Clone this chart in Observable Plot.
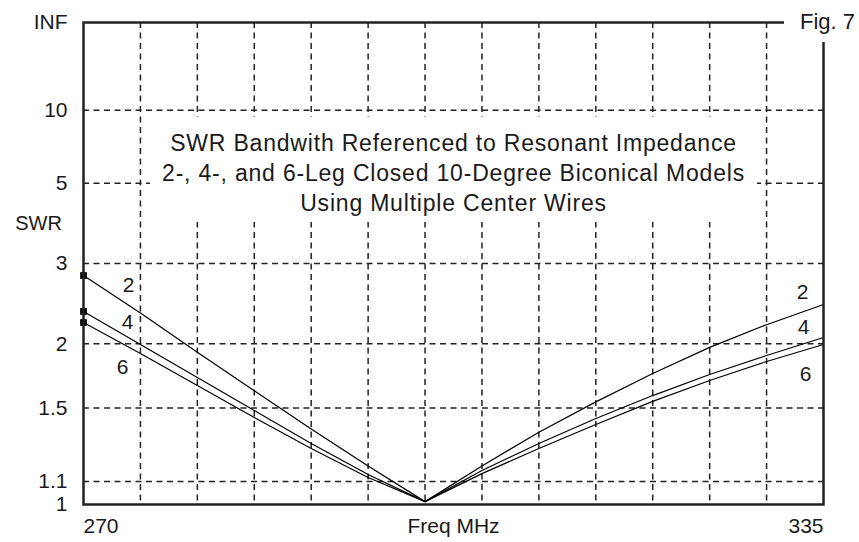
<!DOCTYPE html>
<html><head><meta charset="utf-8">
<script src="https://cdn.jsdelivr.net/npm/d3@7"></script>
<script src="https://cdn.jsdelivr.net/npm/@observablehq/plot@0.6"></script>
<style>
body{margin:0;background:#fff;font-family:"Liberation Sans",Arial,sans-serif;color:#1a1a1a;}
#wrap{position:relative;width:859px;height:542px;overflow:hidden;}
#title{position:absolute;left:150px;top:117px;width:607px;height:105px;background:#fff;text-align:center;font-size:23px;letter-spacing:0.8px;line-height:30px;padding-top:11px;box-sizing:border-box;white-space:nowrap;}
#fig{position:absolute;left:784px;top:0;width:75px;height:42px;background:#fff;font-size:22px;line-height:44px;padding-left:16px;box-sizing:border-box;white-space:nowrap;}
</style>
</head><body>
<div id="wrap"><div id="chart"></div>
<div id="title">SWR Bandwith Referenced to Resonant Impedance<br>2-, 4-, and 6-Leg Closed 10-Degree Biconical Models<br>Using Multiple Center Wires</div>
<div id="fig">Fig. 7</div>
</div>
<script>
// Frequencies (MHz)
const freqs = [270, 275, 280, 285, 290, 295, 300, 305, 310, 315, 320, 325, 330, 335];
// SWR values per model
const swr2 = [2.810, 2.317, 1.924, 1.618, 1.372, 1.174, 1.012, 1.174, 1.353, 1.541, 1.747, 1.967, 2.190, 2.419];
const swr4 = [2.336, 1.994, 1.716, 1.484, 1.290, 1.133, 1.012, 1.152, 1.290, 1.434, 1.584, 1.739, 1.895, 2.060];
const swr6 = [2.213, 1.912, 1.656, 1.440, 1.263, 1.119, 1.012, 1.137, 1.263, 1.398, 1.544, 1.693, 1.844, 1.994];
const seriesNames = ["2", "4", "6"];
const seriesValues = [swr2, swr4, swr6];
// Axis ticks
const yTickValues = [1, 1.1, 1.5, 2, 3, 5, 10, Infinity];
const yTickLabels = ["1", "1.1", "1.5", "2", "3", "5", "10", "INF"];
const xGridValues = [275, 280, 285, 290, 295, 300, 305, 310, 315, 320, 325, 330];
const xTickLabels = [270, 335];

// SWR chart scale: reflection coefficient
const rho = s => s === Infinity ? 1 : (s - 1) / (s + 1);

const rows = [];
seriesNames.forEach((name, k) => {
  freqs.forEach((f, i) => rows.push({series: name, freq: f, swr: seriesValues[k][i]}));
});
const firstPts = rows.filter(d => d.freq === freqs[0]);
const lastPts = rows.filter(d => d.freq === freqs[freqs.length - 1]);
const labelMap = new Map(yTickValues.map((v, i) => [rho(v), yTickLabels[i]]));

// label offsets (style) per series
const leftOff = {"2": [45, 10], "4": [44, 11], "6": [39, 45]};
const rightOff = {"2": [-21, -12], "4": [-20, -10], "6": [-18, 30]};

const fs = 21;
const dash = "6,4.5";
const marks = [
  Plot.ruleX(xGridValues, {stroke: "#222", strokeWidth: 1.5, strokeDasharray: dash}),
  Plot.ruleY(yTickValues.slice(1, -1).map(rho), {stroke: "#222", strokeWidth: 1.5, strokeDasharray: dash}),
  Plot.line(rows, {x: "freq", y: d => rho(d.swr), z: "series", stroke: "#000", strokeWidth: 1.2}),
  Plot.dot(firstPts, {x: "freq", y: d => rho(d.swr), symbol: "square", r: 3.8, fill: "#000", stroke: "none"}),
  Plot.frame({stroke: "#222", strokeWidth: 2.5}),
  Plot.axisY(yTickValues.map(rho), {tickSize: 0, tickPadding: 16, tickFormat: d => labelMap.get(d), fontSize: fs, label: null}),
  Plot.text(["SWR"], {frameAnchor: "left", dx: -45, dy: -40, textAnchor: "middle", fontSize: 20}),
  Plot.text([xTickLabels[0]], {x: d => d, frameAnchor: "bottom", dy: 28, textAnchor: "start", fontSize: fs}),
  Plot.text([xTickLabels[1]], {x: d => d, frameAnchor: "bottom", dy: 28, textAnchor: "end", fontSize: fs}),
  Plot.text(["Freq MHz"], {frameAnchor: "bottom", dy: 28, fontSize: fs})
];
seriesNames.forEach(name => {
  marks.push(Plot.text(firstPts.filter(d => d.series === name), {x: "freq", y: d => rho(d.swr), text: "series", dx: leftOff[name][0], dy: leftOff[name][1], fontSize: fs}));
  marks.push(Plot.text(lastPts.filter(d => d.series === name), {x: "freq", y: d => rho(d.swr), text: "series", dx: rightOff[name][0], dy: rightOff[name][1], fontSize: fs}));
});

const chart = Plot.plot({
  width: 859,
  height: 542,
  marginLeft: 83,
  marginRight: 36,
  marginTop: 22,
  marginBottom: 38,
  style: {fontFamily: "'Liberation Sans', Arial, sans-serif", color: "#1a1a1a", background: "#fff"},
  x: {domain: [270, 335], axis: null},
  y: {domain: [0, 1], axis: null},
  marks
});
document.getElementById("chart").appendChild(chart);
</script>
</body></html>
